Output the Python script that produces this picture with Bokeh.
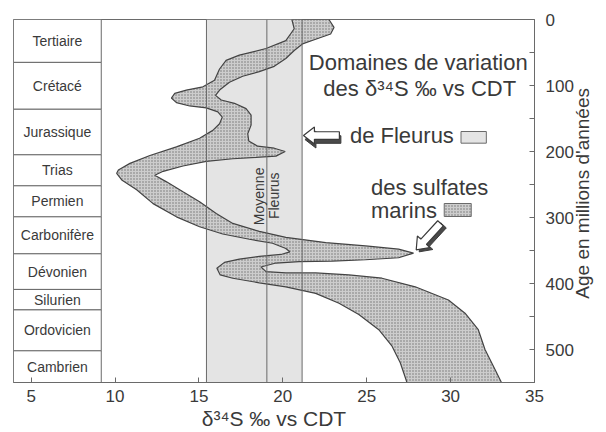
import math
from bokeh.plotting import figure
from bokeh.models import Range1d, FixedTicker, LinearAxis
from bokeh.embed import file_html
from bokeh.resources import INLINE
from bokeh.core.properties import value

# ---------------- data ----------------
period_names = ["Tertiaire", "Crétacé", "Jurassique", "Trias", "Permien",
                "Carbonifère", "Dévonien", "Silurien", "Ordovicien", "Cambrien"]
period_bounds = [0, 65, 136, 205, 252, 299, 355, 409, 440, 502, 550]

fleurus_min = 15.45
fleurus_max = 21.15
fleurus_mean = 19.05

# marine sulfate envelope, left edge (top -> bottom)
sulf_left_d34s = [20.54, 20.68, 20.18, 19.0, 17.41, 16.62, 16.23, 15.93, 15.24, 14.25,
                  13.56, 13.36, 13.66, 14.45, 15.44, 16.13, 16.39, 16.23, 15.83, 15.04,
                  13.66, 12.08, 10.89, 10.20, 10.10, 10.40, 11.29, 12.27, 13.66, 15.04,
                  16.42, 18.01, 19.39, 20.18, 20.42, 19.89, 18.60, 17.41, 16.52, 16.07,
                  16.27, 17.02, 18.60, 20.18, 21.96, 23.35, 24.53, 25.72, 26.51, 27.0, 27.40]
sulf_left_age = [0, 14, 32, 44, 54, 62, 75, 92, 102, 107,
                 112, 119, 126, 131, 134, 140, 148, 158, 168, 180,
                 193, 206, 218, 228, 233, 243, 258, 279, 299, 314,
                 325, 333, 339, 347, 352, 356, 359, 363, 368, 377,
                 387, 392, 399, 405, 415, 430, 447, 470, 495, 520, 550]
# marine sulfate envelope, right edge (top -> bottom)
sulf_right_d34s = [22.75, 23.05, 22.85, 21.96, 21.17, 20.68, 20.18, 19.49, 18.60, 17.61,
                   16.82, 16.27, 15.99, 16.33, 17.12, 17.81, 18.11, 18.11, 17.91, 17.97,
                   18.50, 19.49, 20.14, 19.59, 18.40, 17.02, 15.44, 14.05, 12.87, 12.37,
                   13.07, 14.05, 15.04, 16.03, 17.02, 18.60, 20.18, 22.56, 24.93, 26.90,
                   27.79, 26.90, 24.93, 22.95, 20.97, 19.59, 18.70, 19.0, 20.18, 21.96,
                   23.94, 25.91, 27.89, 29.87, 30.86, 31.65, 32.05, 32.64, 33.03]
sulf_right_age = [0, 12, 22, 30, 37, 47, 59, 71, 79, 86,
                  95, 106, 115, 122, 127, 135, 145, 160, 173, 184,
                  192, 195, 200, 207, 209, 211, 215, 222, 230, 236,
                  246, 261, 276, 294, 309, 321, 330, 338, 343, 348,
                  354, 361, 364, 366, 367, 369, 375, 382, 384, 384,
                  387, 392, 405, 425, 445, 470, 500, 530, 550]

x_ticks = [5, 10, 15, 20, 25, 30, 35]
age_ticks = [0, 100, 200, 300, 400, 500]
age_minor_ticks = [50, 150, 250, 350, 450]

x_title = "δ³⁴S ‰ vs CDT"
y_title = "Age en millions d'années"

# ---------------- styles ----------------
FONT = "Liberation Sans"
TXT = "#3a3a3a"
LINE = "#6a6a6a"
X0, X1 = 3.95, 35
A0, A1 = 0, 550
FRAME_W, FRAME_H = 522, 363
PX_X = FRAME_W / (X1 - X0)
PX_Y = FRAME_H / (A1 - A0)

p = figure(width=606, height=432, x_range=Range1d(X0, X1), y_range=Range1d(A1, A0),
           y_axis_location="right", output_backend="svg", toolbar_location=None,
           min_border_left=13, min_border_top=19, min_border_right=71, min_border_bottom=50)
p.grid.visible = False
p.outline_line_color = LINE
p.background_fill_color = "white"
p.border_fill_color = "white"

xa = p.xaxis[0]
xa.ticker = FixedTicker(ticks=x_ticks)
xa.major_tick_in = 5
xa.major_tick_out = 0
xa.minor_tick_line_color = None
xa.axis_line_color = LINE
xa.major_tick_line_color = LINE
xa.major_label_text_font = FONT
xa.major_label_text_font_size = "17px"
xa.major_label_text_color = TXT
xa.major_label_standoff = 7
xa.axis_label = x_title
xa.axis_label_text_font = FONT
xa.axis_label_text_font_size = "21px"
xa.axis_label_text_font_style = "normal"
xa.axis_label_text_color = TXT
xa.axis_label_standoff = 2

ya = p.yaxis[0]
ya.ticker = FixedTicker(ticks=age_ticks, minor_ticks=age_minor_ticks)
ya.major_tick_in = 5
ya.major_tick_out = 0
ya.minor_tick_in = 5
ya.minor_tick_out = 0
ya.axis_line_color = LINE
ya.major_tick_line_color = LINE
ya.minor_tick_line_color = LINE
ya.major_label_text_font = FONT
ya.major_label_text_font_size = "17px"
ya.major_label_text_color = TXT
ya.major_label_standoff = 11

# y-axis title drawn as a single rotated label (reads bottom to top)
title_anchor_age = 423
ya2 = LinearAxis(ticker=FixedTicker(ticks=[title_anchor_age]),
                 major_label_overrides={title_anchor_age: y_title},
                 major_label_orientation=math.pi / 2,
                 axis_line_color=None, major_tick_line_color=None, minor_tick_line_color=None,
                 major_label_standoff=0, major_label_text_font=FONT,
                 major_label_text_font_size="19px", major_label_text_color=TXT)
p.add_layout(ya2, "right")

# Fleurus domain
p.quad(left=[fleurus_min], right=[fleurus_max], top=[A0], bottom=[A1],
       fill_color="#e4e4e4", line_color=None)

# marine sulfate envelope
poly_x = sulf_left_d34s + sulf_right_d34s[::-1]
poly_y = sulf_left_age + sulf_right_age[::-1]
p.patch(poly_x, poly_y, fill_color="#cdcdcd", line_color="#444444", line_width=1.2,
        hatch_pattern="dot", hatch_scale=3, hatch_weight=1, hatch_color="#555555", hatch_alpha=0.75)

# Fleurus edges and mean
p.segment(x0=[fleurus_min, fleurus_max, fleurus_mean], x1=[fleurus_min, fleurus_max, fleurus_mean],
          y0=[A0] * 3, y1=[A1] * 3, line_color=LINE, line_width=1)

# period table
table_right = 9.18
p.quad(left=[X0] * len(period_names), right=[table_right] * len(period_names),
       top=period_bounds[:-1], bottom=period_bounds[1:],
       fill_color="white", line_color=LINE, line_width=1)
mids = [(a + b) / 2 for a, b in zip(period_bounds[:-1], period_bounds[1:])]
p.text(x=[(X0 + table_right) / 2] * len(period_names), y=mids, text=period_names,
       text_font=value(FONT), text_font_size=value("14px"), text_color=TXT,
       text_align="center", text_baseline="middle")

# "Moyenne Fleurus"
p.text(x=[fleurus_mean - 0.45, fleurus_mean + 0.42], y=[268, 267], text=["Moyenne", "Fleurus"],
       angle=math.pi / 2, text_font=value(FONT), text_font_size=value("14px"), text_color=TXT,
       text_align="center", text_baseline="middle")

# legend texts
LEG = value("22px")
p.text(x=[28.07, 28.16], y=[64.7, 105], text=["Domaines de variation", "des δ³⁴S ‰ vs CDT"],
       text_font=value(FONT), text_font_size=LEG, text_color=TXT,
       text_align="center", text_baseline="middle")
p.text(x=[24.0], y=[175.8], text=["de Fleurus"],
       text_font=value(FONT), text_font_size=LEG, text_color=TXT,
       text_align="left", text_baseline="middle")
p.text(x=[28.75], y=[254], text=["des sulfates"],
       text_font=value(FONT), text_font_size=LEG, text_color=TXT,
       text_align="center", text_baseline="middle")
p.text(x=[25.25], y=[289.4], text=["marins"],
       text_font=value(FONT), text_font_size=LEG, text_color=TXT,
       text_align="left", text_baseline="middle")

# legend swatches
p.quad(left=[30.62], right=[32.13], top=[169.7], bottom=[187.4],
       fill_color="#e4e4e4", line_color=LINE, line_width=1)
p.quad(left=[29.62], right=[31.23], top=[278.8], bottom=[298.5],
       fill_color="#cdcdcd", line_color=LINE, line_width=1,
       hatch_pattern="dot", hatch_scale=3, hatch_weight=1, hatch_color="#555555", hatch_alpha=0.75)


# block arrows
def arrow_poly(tip_x, tip_age, ang_deg, length, head_len, head_half, shaft_half, off=(0, 0)):
    pts = [(0, 0), (-head_len, head_half), (-head_len, shaft_half), (-length, shaft_half),
           (-length, -shaft_half), (-head_len, -shaft_half), (-head_len, -head_half)]
    a = math.radians(ang_deg)
    ca, sa = math.cos(a), math.sin(a)
    xs, ys = [], []
    for u, v in pts:
        dx = u * ca - v * sa + off[0]
        dy = u * sa + v * ca + off[1]
        xs.append(tip_x + dx / PX_X)
        ys.append(tip_age + dy / PX_Y)
    return xs, ys


for tip_x, tip_age, ang, off in [(21.23, 175.8, 180, (1.5, 4)), (27.95, 349, 132.6, (3, 2))]:
    sx, sy = arrow_poly(tip_x, tip_age, ang, 36, 11, 8.5, 3.8, off)
    p.patch(sx, sy, fill_color="#4a4a4a", line_color="#3a3a3a", line_width=1)
    mx, my = arrow_poly(tip_x, tip_age, ang, 36, 11, 8.5, 3.8)
    p.patch(mx, my, fill_color="white", line_color="#3a3a3a", line_width=1.2)

open("out.html", "w").write(file_html(p, INLINE))
